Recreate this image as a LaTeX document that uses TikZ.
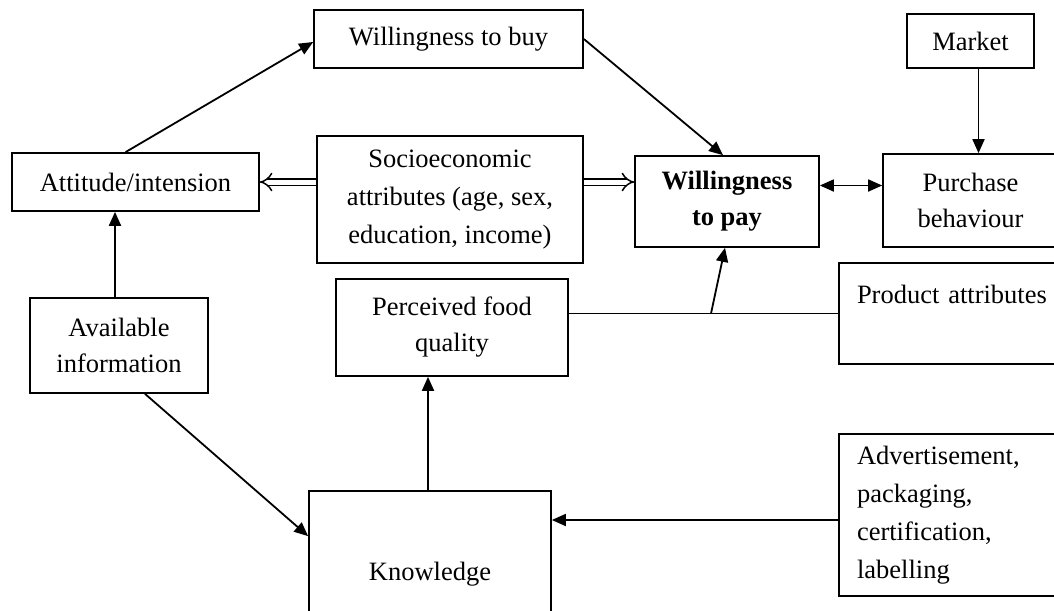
\documentclass[tikz,border=0pt]{standalone}
\usepackage{fontspec}
\setmainfont{Liberation Serif}
\usetikzlibrary{arrows.meta}
\begin{document}
\begin{tikzpicture}[x=1pt,y=-1pt,
  box/.style={draw, line width=1.7pt, inner sep=0pt, align=center,
    font=\fontsize{26.5}{38}\selectfont},
  txt/.style={inner sep=0pt, align=center, font=\fontsize{26.5}{38}\selectfont},
  arr/.style={line width=1.8pt, -{Triangle[length=14pt,width=12pt]}},
  darr/.style={line width=1.8pt, {Triangle[length=14pt,width=12pt]}-{Triangle[length=14pt,width=12pt]}},
  plain/.style={line width=1.8pt},
  harr/.style={double, double distance=5pt, line width=1.5pt, -{Implies}}]
\useasboundingbox (0,0) rectangle (1054,610);
% boxes
\node[box, minimum width=269pt, minimum height=58pt] (wtb) at (448.5,39) {Willingness to buy};
\node[box, minimum width=127pt, minimum height=54pt] (market) at (970.5,41) {Market};
\node[box, minimum width=247pt, minimum height=58pt] (att) at (135.5,182) {Attitude/intension};
\node[box, minimum width=266pt, minimum height=127pt] (socio) at (450,199.5) {Socioeconomic\\attributes (age, sex,\\education, income)};
\node[box, minimum width=184pt, minimum height=91pt, font=\fontsize{26.5}{36}\selectfont\bfseries] (wtp) at (727,201.5) {Willingness\\to pay};
\node[box, minimum width=175pt, minimum height=93pt, font=\fontsize{26.5}{36}\selectfont] (pb) at (970.5,200.5) {Purchase\\behaviour};
\node[box, minimum width=232pt, minimum height=97pt, font=\fontsize{26.5}{36}\selectfont] (pfq) at (452,327.5) {Perceived food\\quality};
\node[box, minimum width=178pt, minimum height=95pt, font=\fontsize{26.5}{36}\selectfont] (ai) at (119,345.5) {Available\\information};
\node[box, align=left, text width=190pt, inner xsep=18pt, minimum height=101pt] (prod) at (952,313.5) {Product attributes\\\mbox{}};
\node[box, align=left, text width=190pt, inner xsep=18pt, minimum height=162pt] (adv) at (952,515) {Advertisement,\\packaging,\\certification,\\labelling};
\node[box, minimum width=242pt, minimum height=140pt] (know) at (430,561) {};
\node[txt] (knowtxt) at ([yshift=-84pt]know.north) {Knowledge};
% connectors
\draw[arr] (wtb.east) -- ([xshift=-4pt]wtp.north);
\draw[arr] ([xshift=-10pt]att.north) -- ([yshift=-3pt]wtb.west);
\draw[arr] ([xshift=-4pt]ai.north) -- ([xshift=-4pt]ai.north |- att.south);
\draw[harr] (socio.west |- att.east) -- (att.east);
\draw[harr] (socio.east |- att.east) -- (wtp.west |- att.east);
\draw[darr] ([yshift=16pt]wtp.east) -- ([yshift=16pt]wtp.east -| pb.west);
\draw[arr] ([xshift=8pt]market.south) -- ([xshift=8pt]market.south |- pb.north);
\draw[plain] (prod.west) -- (prod.west -| pfq.east);
\coordinate (j) at (711,313.5);
\draw[arr] (j) -- ([xshift=-2pt]wtp.south);
\draw[arr] ([xshift=-2pt]know.north) -- ([xshift=-2pt]know.north |- pfq.south);
\draw[arr] ([xshift=26pt]ai.south) -- ([yshift=-46pt]know.north west);
\draw[arr] ([yshift=-5pt]adv.west) -- ([yshift=-5pt]adv.west -| know.east);
\end{tikzpicture}
\end{document}
